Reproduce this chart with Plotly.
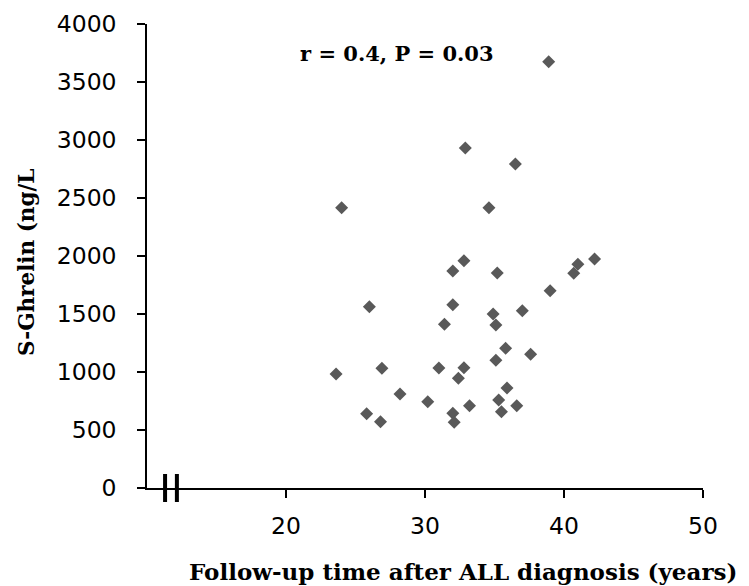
import plotly.graph_objects as go

# Data
followup_years = [23.6, 26.9, 31.0, 32.8, 32.4, 35.1, 35.8, 37.6, 28.2, 30.2,
                  25.8, 26.8, 32.0, 32.1, 33.2, 35.9, 35.3, 36.6, 35.5, 32.9,
                  36.5, 24.0, 34.6, 32.8, 32.0, 35.2, 39.0, 26.0, 32.0, 34.9,
                  37.0, 31.4, 35.1, 42.2, 41.0, 40.7, 38.9]
ghrelin = [983, 1032, 1034, 1037, 946, 1101, 1204, 1153, 810, 744,
           641, 572, 644, 566, 709, 862, 759, 709, 658, 2931,
           2793, 2416, 2416, 1959, 1871, 1853, 1701, 1563, 1580, 1500,
           1528, 1411, 1405, 1974, 1928, 1851, 3675]
x_ticks = [20, 30, 40, 50]
y_ticks = [0, 500, 1000, 1500, 2000, 2500, 3000, 3500, 4000]
break_x = [11.3, 12.15]
stat_text = "r = 0.4, P = 0.03"
x_title = "Follow-up time after ALL diagnosis (years)"
y_title = "S-Ghrelin (ng/L"

fig = go.Figure()
fig.add_trace(go.Scatter(
    x=followup_years, y=ghrelin, mode="markers",
    marker=dict(symbol="diamond", size=10, color="#595959"),
    showlegend=False,
))

title_font = dict(family="DejaVu Serif", size=21, color="black", weight="bold")

# page body has an 8px margin, so the figure is 8px smaller than the window
fig.update_layout(
    width=741, height=578,
    margin=dict(l=139, r=46, t=16, b=98),
    paper_bgcolor="white", plot_bgcolor="white",
    font=dict(family="DejaVu Sans", size=23.5, color="black"),
    xaxis=dict(range=[10, 50], tickvals=x_ticks, showline=True, linecolor="black",
               linewidth=1.5, ticks="outside", ticklen=8, tickwidth=1.5,
               tickcolor="black", showgrid=False, zeroline=False,
               ticklabelstandoff=8, automargin=False),
    yaxis=dict(range=[0, 4000], tickvals=y_ticks, showline=True, linecolor="black",
               linewidth=1.5, ticks="outside", ticklen=8, tickwidth=1.5,
               tickcolor="black", showgrid=False, zeroline=False,
               ticklabelstandoff=16, automargin=False),
)

for bx in break_x:
    fig.add_shape(type="line", xref="x", yref="paper", x0=bx, x1=bx,
                  ysizemode="pixel", yanchor=0, y0=-14, y1=14,
                  line=dict(color="black", width=4))

fig.add_annotation(text=stat_text, xref="x", yref="y", x=28, y=3750,
                   showarrow=False, font=title_font)
fig.add_annotation(text=x_title, xref="paper", yref="paper", x=0.569, y=-0.181,
                   xanchor="center", yanchor="middle", showarrow=False,
                   font=dict(title_font, size=23))
fig.add_annotation(text=y_title, xref="paper", yref="paper", x=-0.2176, y=0.487,
                   xanchor="center", yanchor="middle", textangle=-90,
                   showarrow=False, font=dict(title_font, size=21.5))

fig.write_html("out.html")
